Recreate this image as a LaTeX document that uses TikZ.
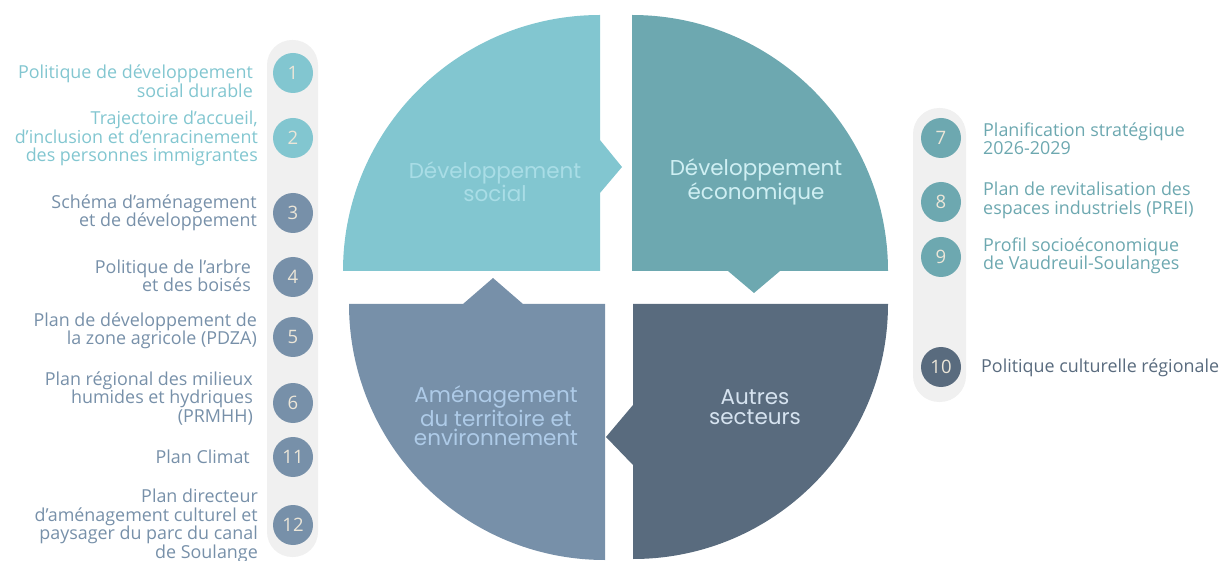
\documentclass[tikz,border=0pt]{standalone}
\usepackage{fontspec}
\setmainfont{Open Sans}
\newfontfamily\quadfont{Poppins}
\definecolor{cTL}{HTML}{82C6D0}
\definecolor{cTR}{HTML}{6DA8B0}
\definecolor{cBL}{HTML}{7790A9}
\definecolor{cBR}{HTML}{596B7E}
\definecolor{tTL}{HTML}{A9DDE6}
\definecolor{tTR}{HTML}{CFEFF3}
\definecolor{tBL}{HTML}{AECBE8}
\definecolor{tBR}{HTML}{D6E3F0}
\definecolor{panel}{HTML}{F0F0F0}
\definecolor{numtxt}{HTML}{ECE6D8}
\begin{document}
\begin{tikzpicture}[x=1pt,y=-1pt,
  numc/.style={circle, minimum size=40pt, inner sep=0pt, font=\fontsize{18.5}{18.5}\selectfont, text=numtxt},
  ltxt/.style={anchor=east, align=right, inner sep=0pt, font=\fontsize{17.9}{18.5}\selectfont},
  rtxt/.style={anchor=west, align=left, inner sep=0pt, font=\fontsize{17.9}{18.5}\selectfont},
  qtxt/.style={align=center, inner sep=0pt, font=\quadfont\fontsize{21.5}{19.5}\selectfont}
]
\useasboundingbox (0,0) rectangle (1224,561);
% quadrants
\fill[cTL] (600,15) -- (600,140) -- (622,167) -- (600,193) -- (600,271) -- (343,271)
  arc[start angle=180, end angle=270, x radius=257, y radius=256] -- cycle;
\fill[cTR] (632,271) -- (632,15) arc[start angle=270, end angle=360, radius=256]
  -- (780,271) -- (754,293) -- (728,271) -- cycle;
\fill[cBL] (349,304) -- (463,304) -- (493,278) -- (523,304) -- (605,304) -- (605,560)
  arc[start angle=90, end angle=180, radius=256] -- cycle;
\fill[cBR] (633,304) -- (888,304) arc[start angle=0, end angle=90, radius=255]
  -- (633,465) -- (606,437) -- (633,405) -- cycle;
\node[qtxt, text=tTL] (qtl) at (495,182) {Développement\\social};
\node[qtxt, text=tTR] (qtr) at (756,182) {Développement\\économique};
\node[qtxt, text=tBL] (qbl) at (496,416) {Aménagement\\du territoire et\\environnement};
\node[qtxt, text=tBR] (qbr) at (755,407) {Autres\\secteurs};
% panels
\fill[panel, rounded corners=25pt] (267,40) rectangle (318,557);
\fill[panel, rounded corners=26pt] (913,108) rectangle (966,402);
% left circles
\node[numc, fill=cTL] (n1) at (293,73) {1};
\node[numc, fill=cTL] (n2) at (293,138) {2};
\node[numc, fill=cBL] (n3) at (293,213) {3};
\node[numc, fill=cBL] (n4) at (293,277) {4};
\node[numc, fill=cBL] (n5) at (293,337) {5};
\node[numc, fill=cBL] (n6) at (293,403) {6};
\node[numc, fill=cBL] (n11) at (293,457) {11};
\node[numc, fill=cBL] (n12) at (293,525) {12};
% left texts
\node[ltxt, text=cTL] (t1) at (253,81) {Politique de développement\\social durable};
\node[ltxt, text=cTL] (t2) at (258,138.5) {Trajectoire d’accueil,\\d’inclusion et d’enracinement\\des personnes immigrantes};
\node[ltxt, text=cBL] (t3) at (257,213) {Schéma d’aménagement\\et de développement};
\node[ltxt, text=cBL] (t4) at (251,276) {Politique de l’arbre\\et des boisés};
\node[ltxt, text=cBL] (t5) at (257,331) {Plan de développement de\\la zone agricole (PDZA)};
\node[ltxt, text=cBL] (t6) at (253,398.5) {Plan régional des milieux\\humides et hydriques\\(PRMHH)};
\node[ltxt, text=cBL] (t11) at (250,457) {Plan Climat};
\node[ltxt, text=cBL] (t12) at (258,526) {Plan directeur\\d\symbol{39}aménagement culturel et\\paysager du parc du canal\\de Soulange};
% right circles
\node[numc, fill=cTR] (n7) at (941,138) {7};
\node[numc, fill=cTR] (n8) at (941,202) {8};
\node[numc, fill=cTR] (n9) at (941,257) {9};
\node[numc, fill=cBR] (n10) at (941,367) {10};
% right texts
\node[rtxt, text=cTR] (t7) at (983,138.5) {Planification stratégique\\2026-2029};
\node[rtxt, text=cTR] (t8) at (983,200.5) {Plan de revitalisation des\\espaces industriels (PREI)};
\node[rtxt, text=cTR] (t9) at (983,256) {Profil socioéconomique\\de Vaudreuil-Soulanges};
\node[rtxt, text=cBR] (t10) at (981,368) {Politique culturelle régionale};
\end{tikzpicture}
\end{document}
